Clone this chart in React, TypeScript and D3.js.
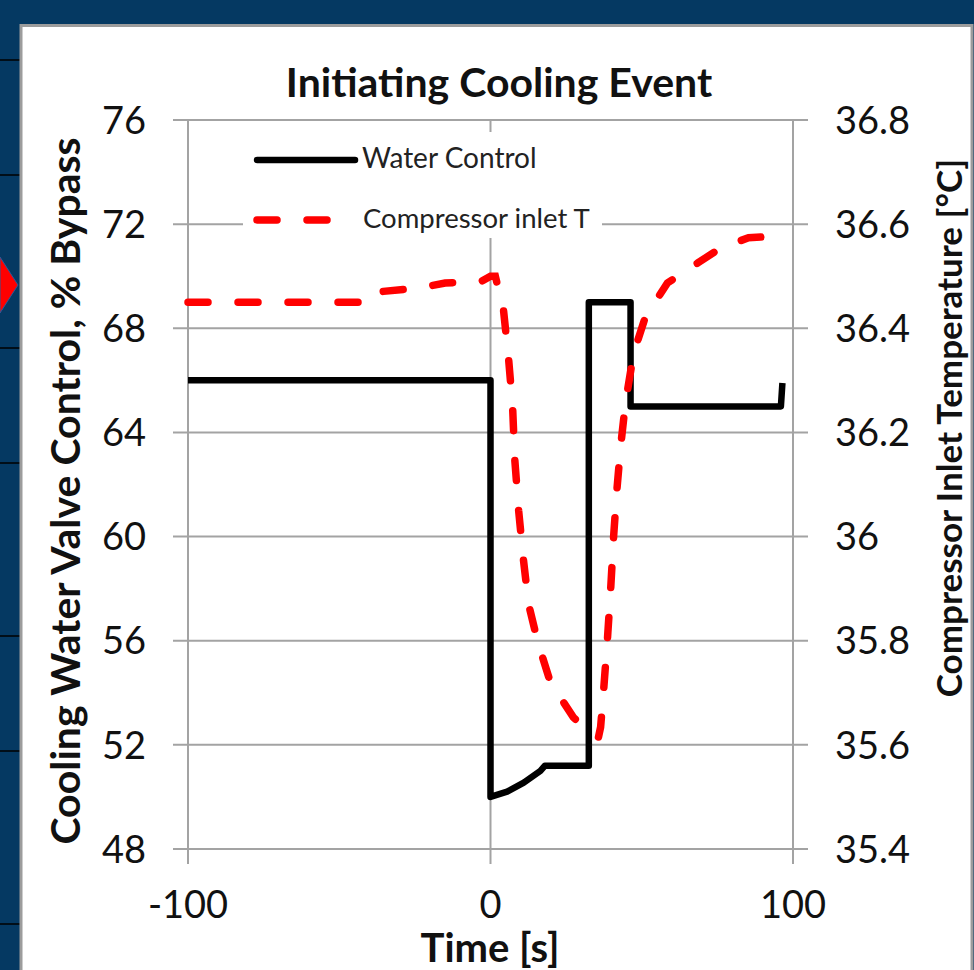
import React from 'react';
import * as d3 from 'd3';

// x ticks, axis ticks
const timeTicks = [-100, 0, 100];
const bypassTicks = [48, 52, 56, 60, 64, 68, 72, 76];
const tempTicks = [35.4, 35.6, 35.8, 36.0, 36.2, 36.4, 36.6, 36.8];

// Water Control (% bypass)
const waterTime = [-100, 0, 0, 5.5, 11, 16.5, 18, 32.5, 32.5, 46.3, 46.3, 96, 96.5];
const waterPct = [66, 66, 50, 50.2, 50.55, 51.0, 51.2, 51.2, 69, 69, 65, 65, 65.9];

// Compressor inlet T (degC)
const compTime = [
  -100, -40, -37, -23, -15, -3, 0, 1.6, 4.3, 6, 7.3, 8, 9.3, 10.9, 12.6, 15.5, 19.8, 27.4,
  33, 35.7, 36.4, 37.4, 38.7, 39.7, 40.7, 41.7, 43, 44.6, 47.3, 51.2, 58.5, 68.4, 76, 85.3, 95.9,
];
const compTemp = [
  36.45, 36.45, 36.47, 36.478, 36.487, 36.49, 36.5, 36.5, 36.435, 36.34, 36.25, 36.15, 36.05,
  35.955, 35.87, 35.8, 35.72, 35.653, 35.62, 35.615, 35.634, 35.705, 35.807, 35.897, 36.0,
  36.084, 36.172, 36.256, 36.352, 36.422, 36.487, 36.525, 36.554, 36.574, 36.577,
];

const W = 974;
const H = 970;
const FONT = 'Lato, "Open Sans", sans-serif';
const GRID = '#a3a3a3';

export default function App() {
  const x = d3.scaleLinear().domain([-100, 100]).range([188, 793]);
  const yL = d3.scaleLinear().domain([48, 76]).range([849, 120]);
  const yR = d3.scaleLinear().domain([35.4, 36.8]).range([849, 120]);

  const water = waterTime.map((t, i) => [t, waterPct[i]] as [number, number]);
  const comp = compTime.map((t, i) => [t, compTemp[i]] as [number, number]);

  const waterLine = d3.line<[number, number]>().x(d => x(d[0])).y(d => yL(d[1]));
  const compLine = d3.line<[number, number]>().x(d => x(d[0])).y(d => yR(d[1]));

  const [x0, x1] = x.range();
  const yBottom = yL(48);
  const yTop = yL(76);
  const fmtT = (v: number) => String(+v.toFixed(1));

  return (
    <svg width={W} height={H} style={{ position: 'absolute', left: 0, top: 0 }} fontFamily={FONT}>
      {/* slide background */}
      <rect x={0} y={0} width={W} height={H} fill="#053962" />
      {[60, 175, 348, 463, 636, 751, 924].map(v => (
        <line key={v} x1={0} x2={20} y1={v} y2={v} stroke="#000" strokeWidth={1.5} />
      ))}
      <path d="M0,257 L18,285 L0,313 Z" fill="#ff0000" stroke="#2a5a9a" strokeWidth={1} />
      <rect x={21} y={25.5} width={951} height={960} fill="#fff" stroke="#9c9c9c" strokeWidth={3} />

      {/* horizontal gridlines with cross ticks on both axes */}
      {bypassTicks.map(v => (
        <line key={v} x1={x0 - 15} x2={x1 + 15} y1={yL(v)} y2={yL(v)} stroke={GRID} strokeWidth={2} />
      ))}
      {/* vertical gridlines / axis lines */}
      {timeTicks.map(t => (
        <line key={t} x1={x(t)} x2={x(t)} y1={yTop} y2={yBottom + 15} stroke={GRID} strokeWidth={2} />
      ))}

      {/* legend */}
      <rect x={243} y={132} width={359} height={106} fill="#fff" />
      <line x1={257} x2={355} y1={160} y2={160} stroke="#000" strokeWidth={6.5} strokeLinecap="round" />
      <text x={362} y={168} fontSize={28} fill="#222">Water Control</text>
      <line x1={257} x2={355} y1={220} y2={220} stroke="#ff0000" strokeWidth={7.5}
        strokeLinecap="round" strokeDasharray="20 30" />
      <text x={363} y={228} fontSize={27.5} fill="#222">Compressor inlet T</text>

      {/* series */}
      <path d={waterLine(water) ?? ''} fill="none" stroke="#000" strokeWidth={6.5} strokeLinejoin="round" />
      <path d={compLine(comp) ?? ''} fill="none" stroke="#ff0000" strokeWidth={7.5}
        strokeLinecap="round" strokeDasharray="20 30" />

      {/* tick labels */}
      {bypassTicks.map(v => (
        <text key={v} x={146} y={yL(v)} dy="0.36em" textAnchor="end" fontSize={38} fill="#111">{v}</text>
      ))}
      {tempTicks.map(v => (
        <text key={v} x={835} y={yR(v)} dy="0.36em" textAnchor="start" fontSize={38} fill="#111">{fmtT(v)}</text>
      ))}
      {timeTicks.map(t => (
        <text key={t} x={x(t)} y={918} textAnchor="middle" fontSize={38} fill="#111">{t}</text>
      ))}

      {/* titles */}
      <text x={499} y={97} textAnchor="middle" fontSize={41} fontWeight="bold" fill="#111">
        Initiating Cooling Event
      </text>
      <text x={490} y={962} textAnchor="middle" fontSize={40} fontWeight="bold" fill="#111">Time [s]</text>
      <text transform="translate(80,491) rotate(-90)" textAnchor="middle" fontSize={41} fontWeight="bold" fill="#111">
        Cooling Water Valve Control, % Bypass
      </text>
      <text transform="translate(962,428) rotate(-90)" textAnchor="middle" fontSize={35} fontWeight="bold" fill="#111">
        Compressor Inlet Temperature [°C]
      </text>
    </svg>
  );
}
